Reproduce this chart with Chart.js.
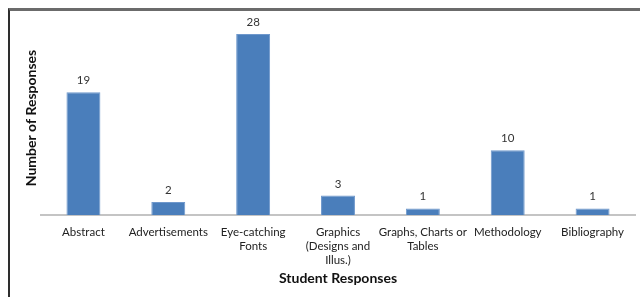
<!DOCTYPE html>
<html>
<head>
<meta charset="utf-8">
<script src="https://cdn.jsdelivr.net/npm/chart.js@4/dist/chart.umd.min.js"></script>
<style>
  html, body { margin: 0; padding: 0; background: #fff; }
  #wrap { position: relative; width: 640px; height: 297px; }
  #frame {
    position: absolute; left: 8px; top: 8px; right: 0; bottom: 0;
    border-top: 3px solid #6b6b6b; border-left: 2px solid #2e2e2e;
    pointer-events: none;
  }
</style>
</head>
<body>
<div id="wrap">
  <canvas id="grafica" width="640" height="297"></canvas>
  <div id="frame"></div>
</div>
<script>
var categorias = [
    'Abstract',
    'Advertisements',
    ['Eye-catching', 'Fonts'],
    ['Graphics', '(Designs and', 'Illus.)'],
    ['Graphs, Charts or', 'Tables'],
    'Methodology',
    'Bibliography'
];
var respuestas = [19, 2, 28, 3, 1, 10, 1];

var fuente = 'Lato, "Open Sans", sans-serif';

// etiquetas con el valor encima de cada barra
var etiquetasValor = {
    id: 'etiquetasValor',
    afterDatasetsDraw: function (chart) {
        var ctx = chart.ctx;
        var meta = chart.getDatasetMeta(0);
        ctx.save();
        ctx.font = '11.5px ' + fuente;
        ctx.fillStyle = '#333';
        ctx.textAlign = 'center';
        ctx.textBaseline = 'bottom';
        meta.data.forEach(function (barra, i) {
            ctx.fillText(respuestas[i], barra.x, barra.y - 6);
        });
        ctx.restore();
    }
};

var ctx = document.getElementById('grafica').getContext('2d');
var grafica = new Chart(ctx, {
    type: 'bar',
    data: {
        labels: categorias,
        datasets: [{
            label: 'Number of Responses',
            data: respuestas,
            backgroundColor: '#4a7ebb',
            borderColor: '#6f98cc',
            borderWidth: 1,
            categoryPercentage: 1,
            barPercentage: 0.4
        }]
    },
    options: {
        responsive: false,
        animation: false,
        layout: { padding: { left: 0, right: 5, top: 21, bottom: 10 } },
        plugins: {
            legend: { display: false },
            tooltip: { enabled: false }
        },
        scales: {
            x: {
                grid: { display: false },
                border: { display: true, color: '#c4c4c4', width: 2 },
                ticks: {
                    color: '#222',
                    font: { family: fuente, size: 11.5, lineHeight: 1.22 },
                    padding: 2,
                    maxRotation: 0,
                    autoSkip: false
                },
                title: {
                    display: true,
                    text: 'Student Responses',
                    color: '#111',
                    font: { family: fuente, size: 14, weight: 'bold' },
                    padding: { top: 0, bottom: 0 }
                },
                afterFit: function (s) { s.height = 72; }
            },
            y: {
                min: 0,
                max: 30,
                grid: { display: false },
                border: { display: false },
                ticks: { display: false },
                title: {
                    display: true,
                    text: 'Number of Responses',
                    color: '#111',
                    font: { family: fuente, size: 14, weight: 'bold' },
                    padding: { top: 23, bottom: 0 }
                },
                afterFit: function (s) { s.width = 41; }
            }
        }
    },
    plugins: [etiquetasValor]
});
</script>
</body>
</html>
